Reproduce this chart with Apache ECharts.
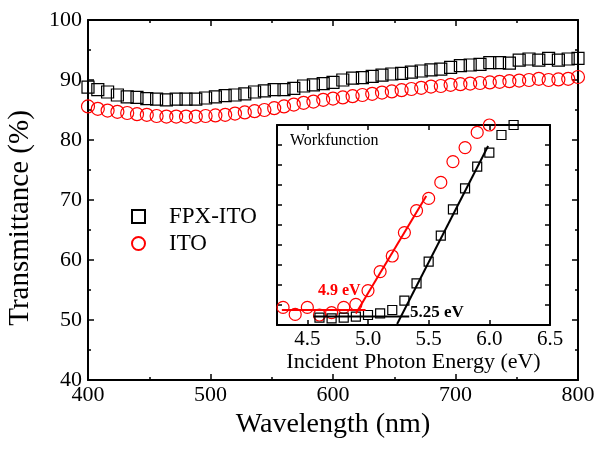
<!DOCTYPE html>
<html>
<head>
    <meta charset="utf-8">
    <title>Transmittance</title>
    <script src="https://cdn.jsdelivr.net/npm/echarts@6.0.0/dist/echarts.min.js"></script>
    <style>
        html, body {
            margin: 0;
            padding: 0;
            background: #ffffff;
        }

        #chart {
            width: 597px;
            height: 450px;
        }
    </style>
</head>
<body>
<div id="chart"></div>
<script>
// main plot: wavelength (nm) vs transmittance (%)
var wavelength = [400, 408, 416, 424, 432, 440, 448, 456, 464, 472, 480, 488, 496, 504, 512, 520, 528,
    536, 544, 552, 560, 568, 576, 584, 592, 600, 608, 616, 624, 632, 640, 648, 656, 664, 672, 680,
    688, 696, 704, 712, 720, 728, 736, 744, 752, 760, 768, 776, 784, 792, 800];
var fpxIto = [88.8, 88.4, 88.0, 87.5, 87.2, 87.1, 86.9, 86.8, 86.7, 86.8, 86.8, 86.8, 87.0, 87.2, 87.4,
    87.5, 87.7, 88.0, 88.2, 88.4, 88.4, 88.6, 89.0, 89.2, 89.4, 89.6, 90.0, 90.3, 90.4, 90.6, 90.8,
    91.0, 91.1, 91.3, 91.5, 91.7, 91.8, 92.1, 92.4, 92.5, 92.6, 92.9, 92.9, 92.8, 93.3, 93.5, 93.3,
    93.6, 93.3, 93.5, 93.6];
var ito = [85.6, 85.2, 84.9, 84.7, 84.5, 84.3, 84.2, 84.0, 83.9, 83.9, 83.9, 83.9, 84.0, 84.1, 84.2,
    84.4, 84.6, 84.8, 85.0, 85.3, 85.6, 85.9, 86.2, 86.4, 86.7, 86.9, 87.1, 87.3, 87.5, 87.7, 87.9,
    88.1, 88.3, 88.5, 88.7, 88.9, 89.0, 89.2, 89.3, 89.4, 89.5, 89.6, 89.7, 89.8, 89.9, 90.0, 90.2,
    90.0, 90.1, 90.2, 90.5];
var mainYTicks = [40, 100, 10];
var mainXTicks = [400, 800, 100];

// inset: photoemission yield vs incident photon energy (eV), arbitrary units
var insetEnergyIto = [4.3, 4.4, 4.5, 4.6, 4.7, 4.8, 4.9, 5.0, 5.1, 5.2, 5.3, 5.4, 5.5, 5.6, 5.7, 5.8, 5.9, 6.0];
var insetIto = [0.88, 0.53, 0.88, 0.5, 0.62, 0.88, 1.03, 1.72, 2.67, 3.45, 4.62, 5.72, 6.33, 7.13, 8.17, 8.87, 9.63, 10.0];
var insetEnergyFpx = [4.6, 4.7, 4.8, 4.9, 5.0, 5.1, 5.2, 5.3, 5.4, 5.5, 5.6, 5.7, 5.8, 5.9, 6.0, 6.1, 6.2];
var insetFpx = [0.37, 0.33, 0.37, 0.42, 0.5, 0.58, 0.75, 1.22, 2.08, 3.17, 4.47, 5.78, 6.83, 7.92, 8.62, 9.5, 10.0];
var insetXLabels = [4.5, 5.0, 5.5, 6.0, 6.5];
// fitted lines (start / end points)
var itoFlat = [[4.29, 0.75], [4.98, 0.75]];
var itoSlope = [[4.90, 0.58], [5.48, 6.45]];
var fpxFlat = [[4.55, 0.42], [5.34, 0.42]];
var fpxSlope = [[5.24, 0.05], [5.99, 8.95]];

function pairs(xs, ys) {
    return xs.map(function (x, i) { return [x, ys[i]]; });
}

var FONT = 'Liberation Serif';
var chart = echarts.init(document.getElementById('chart'), null, {renderer: 'canvas'});

function frameAxis(extra) {
    var base = {
        type: 'value',
        axisLine: {show: true, onZero: false, lineStyle: {color: '#000', width: 2}},
        axisTick: {show: true, inside: true, length: 6, lineStyle: {color: '#000', width: 1.5}},
        minorTick: {show: true, splitNumber: 2, length: 3, lineStyle: {color: '#000', width: 1.5}},
        axisLabel: {show: false},
        splitLine: {show: false}
    };
    return Object.assign(base, extra);
}

var labelStyle = {color: '#000', fontFamily: FONT, fontSize: 22};
var insetTick = {show: true, inside: true, length: 5, lineStyle: {color: '#000', width: 1.5}};

var option = {
    animation: false,
    backgroundColor: '#fff',
    grid: [
        {left: 88, right: 19, top: 20, bottom: 70, show: false, outerBoundsMode: 'none', containLabel: false},
        {left: 277, right: 47, top: 125, height: 200, show: true, backgroundColor: '#fff', borderWidth: 0,
            outerBoundsMode: 'none', containLabel: false}
    ],
    legend: {
        data: ['FPX-ITO', 'ITO'],
        orient: 'vertical',
        left: 126,
        top: 200,
        itemWidth: 13,
        itemHeight: 13,
        itemGap: 4,
        textStyle: {color: '#000', fontFamily: FONT, fontSize: 23, padding: [0, 0, 0, 19]},
        selectedMode: false
    },
    xAxis: [
        frameAxis({
            gridIndex: 0, min: mainXTicks[0], max: mainXTicks[1], interval: mainXTicks[2],
            axisLabel: Object.assign({show: true, margin: 4}, labelStyle),
            name: 'Wavelength (nm)', nameLocation: 'middle', nameGap: 31,
            nameTextStyle: {color: '#000', fontFamily: FONT, fontSize: 28}
        }),
        frameAxis({gridIndex: 0, position: 'top', min: mainXTicks[0], max: mainXTicks[1], interval: mainXTicks[2]}),
        frameAxis({
            gridIndex: 1, min: 4.25, max: 6.5,
            axisTick: Object.assign({customValues: insetXLabels}, insetTick),
            minorTick: {show: false},
            axisLabel: {show: true, margin: 4, customValues: insetXLabels, color: '#000', fontFamily: FONT, fontSize: 21,
                formatter: function (v) { return v.toFixed(1); }},
            name: 'Incident Photon Energy (eV)', nameLocation: 'middle', nameGap: 25,
            nameTextStyle: {color: '#000', fontFamily: FONT, fontSize: 22}
        }),
        frameAxis({
            gridIndex: 1, position: 'top', min: 4.25, max: 6.5,
            axisTick: Object.assign({customValues: insetXLabels}, insetTick),
            minorTick: {show: false}
        })
    ],
    yAxis: [
        frameAxis({
            gridIndex: 0, min: mainYTicks[0], max: mainYTicks[1], interval: mainYTicks[2],
            axisLabel: Object.assign({show: true, margin: 6}, labelStyle),
            name: 'Transmittance (%)', nameLocation: 'middle', nameGap: 53,
            nameTextStyle: {color: '#000', fontFamily: FONT, fontSize: 29, padding: [0, 36, 0, 0]}
        }),
        frameAxis({gridIndex: 0, position: 'right', min: mainYTicks[0], max: mainYTicks[1], interval: mainYTicks[2]}),
        frameAxis({gridIndex: 1, min: 0, max: 10, interval: 1, minorTick: {show: false}, axisTick: insetTick}),
        frameAxis({gridIndex: 1, position: 'right', min: 0, max: 10, interval: 1, minorTick: {show: false}, axisTick: insetTick})
    ],
    series: [
        {
            name: 'FPX-ITO', type: 'scatter', xAxisIndex: 0, yAxisIndex: 0,
            symbol: 'rect', symbolSize: 12,
            itemStyle: {color: 'rgba(0,0,0,0)', borderColor: '#000', borderWidth: 1.2, opacity: 1},
            emphasis: {disabled: true},
            data: pairs(wavelength, fpxIto)
        },
        {
            name: 'ITO', type: 'scatter', xAxisIndex: 0, yAxisIndex: 0,
            symbol: 'circle', symbolSize: 13,
            itemStyle: {color: 'rgba(0,0,0,0)', borderColor: '#ff0000', borderWidth: 1.2, opacity: 1},
            emphasis: {disabled: true},
            data: pairs(wavelength, ito)
        },
        {
            name: 'inset ITO', type: 'scatter', xAxisIndex: 2, yAxisIndex: 2,
            symbol: 'circle', symbolSize: 12,
            itemStyle: {color: 'rgba(0,0,0,0)', borderColor: '#ff0000', borderWidth: 1.2, opacity: 1},
            emphasis: {disabled: true},
            data: pairs(insetEnergyIto, insetIto)
        },
        {
            name: 'inset FPX-ITO', type: 'scatter', xAxisIndex: 2, yAxisIndex: 2,
            symbol: 'rect', symbolSize: 9,
            itemStyle: {color: 'rgba(0,0,0,0)', borderColor: '#000', borderWidth: 1.2, opacity: 1},
            emphasis: {disabled: true},
            data: pairs(insetEnergyFpx, insetFpx)
        },
        {name: 'ito flat', type: 'line', xAxisIndex: 2, yAxisIndex: 2, symbol: 'none',
            lineStyle: {color: '#ff0000', width: 2}, data: itoFlat},
        {name: 'ito slope', type: 'line', xAxisIndex: 2, yAxisIndex: 2, symbol: 'none',
            lineStyle: {color: '#ff0000', width: 2}, data: itoSlope},
        {name: 'fpx flat', type: 'line', xAxisIndex: 2, yAxisIndex: 2, symbol: 'none',
            lineStyle: {color: '#000', width: 2}, data: fpxFlat},
        {name: 'fpx slope', type: 'line', xAxisIndex: 2, yAxisIndex: 2, symbol: 'none',
            lineStyle: {color: '#000', width: 2}, data: fpxSlope}
    ],
    graphic: [
        {type: 'text', left: 290, top: 133, style: {text: 'Workfunction', fill: '#000', font: '16px "Liberation Serif"'}},
        {type: 'text', left: 318, top: 283, style: {text: '4.9 eV', fill: '#ff0000', font: 'bold 16px "Liberation Serif"'}},
        {type: 'text', left: 410, top: 304, style: {text: '5.25 eV', fill: '#000', font: 'bold 17px "Liberation Serif"'}}
    ]
};

chart.setOption(option);
</script>
</body>
</html>
